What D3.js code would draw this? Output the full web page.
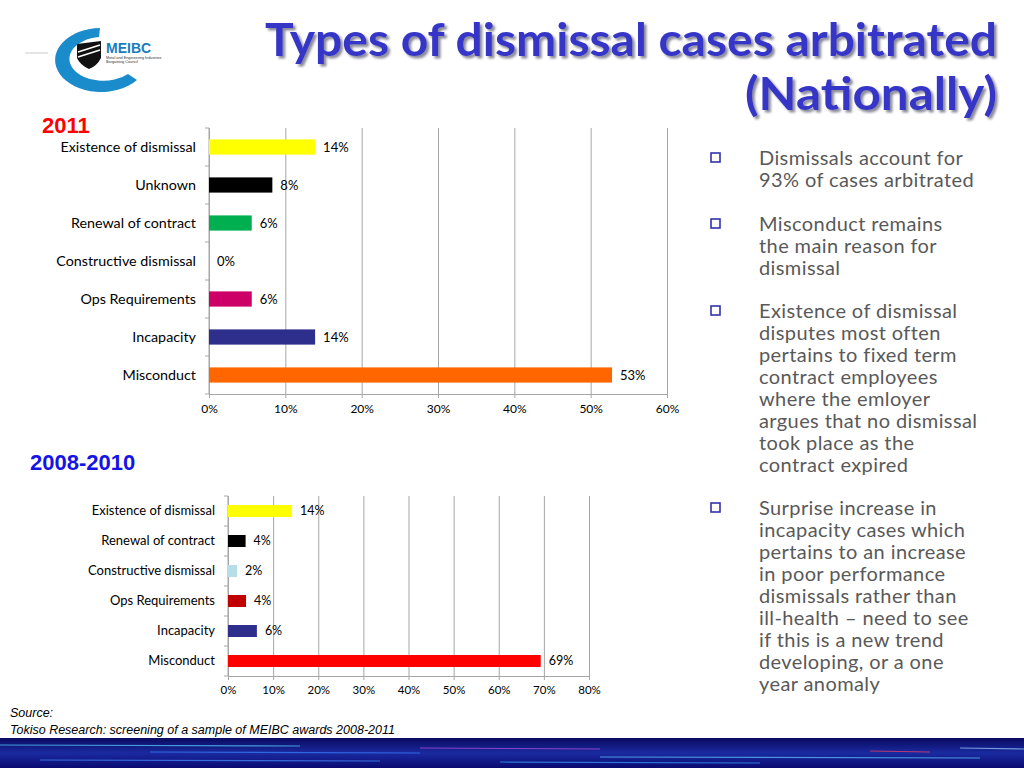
<!DOCTYPE html>
<meta charset="utf-8">
<style>
body { margin: 0; background: #fff; }
svg { display: block; }
.cat text, .vlabel, .tick text { font-family: 'Lato', 'DejaVu Sans', sans-serif; fill: #000; }
.bullet { font-family: 'Lato', sans-serif; fill: #595959; font-size: 20px; letter-spacing: 0.4px; }
</style>
<body>
<svg width="1024" height="768"></svg>
<script src="https://cdnjs.cloudflare.com/ajax/libs/d3/7.8.5/d3.min.js"></script>
<script>
// 2011 chart data (share of cases)
var cats2011 = ["Existence of dismissal", "Unknown", "Renewal of contract", "Constructive dismissal",
                "Ops Requirements", "Incapacity", "Misconduct"];
var vals2011 = [0.139, 0.083, 0.056, 0, 0.056, 0.139, 0.528];
var cols2011 = ["#ffff00", "#000000", "#00b050", "#ffffff", "#cc0066", "#2e2e8c", "#ff6600"];
var ticks2011 = [0, 0.1, 0.2, 0.3, 0.4, 0.5, 0.6];

// 2008-2010 chart data
var cats0810 = ["Existence of dismissal", "Renewal of contract", "Constructive dismissal",
                "Ops Requirements", "Incapacity", "Misconduct"];
var vals0810 = [0.142, 0.039, 0.02, 0.040, 0.064, 0.693];
var cols0810 = ["#ffff00", "#000000", "#b7dee8", "#c00000", "#2e2e8c", "#ff0000"];
var ticks0810 = [0, 0.1, 0.2, 0.3, 0.4, 0.5, 0.6, 0.7, 0.8];

var bullets = [
  ["Dismissals account for", "93% of cases arbitrated"],
  ["Misconduct remains", "the main reason for", "dismissal"],
  ["Existence of dismissal", "disputes most often", "pertains to fixed term", "contract employees",
   "where the emloyer", "argues that no dismissal", "took place as the", "contract expired"],
  ["Surprise increase in", "incapacity cases which", "pertains to an increase", "in poor performance",
   "dismissals rather than", "ill-health \u2013 need to see", "if this is a new trend",
   "developing, or a one", "year anomaly"]
];
var bulletTop = [158, 224, 311, 508];

var svg = d3.select("svg");
var defs = svg.append("defs");
var pct = d3.format(".0%");

var shadow = defs.append("filter").attr("id", "shadow").attr("x", "-5%").attr("y", "-20%")
  .attr("width", "110%").attr("height", "140%");
shadow.append("feDropShadow").attr("dx", 2.5).attr("dy", 2.5).attr("stdDeviation", 0.8)
  .attr("flood-color", "#8a8a9a");

function barChart(cfg) {
  var g = svg.append("g");
  var x = d3.scaleLinear().domain([0, cfg.ticks[cfg.ticks.length - 1]]).range([cfg.left, cfg.right]);
  var y = d3.scaleBand().domain(cfg.cats).range([cfg.top, cfg.bottom])
      .paddingInner(0.6).paddingOuter(0.3);

  // gridlines + bottom tick labels
  var xa = g.append("g").attr("transform", "translate(0," + cfg.bottom + ")")
      .call(d3.axisBottom(x).tickValues(cfg.ticks).tickFormat(pct)
        .tickSize(-(cfg.bottom - cfg.top)).tickSizeOuter(0).tickPadding(10));
  xa.select(".domain").attr("stroke", "#a6a6a6");
  xa.selectAll(".tick line").attr("stroke", "#a6a6a6").attr("y2", -(cfg.bottom - cfg.top)).attr("y1", 4);
  xa.selectAll(".tick text").attr("font-size", cfg.fs - 1).attr("font-family", "Lato, sans-serif");

  // left axis with ticks at band boundaries
  g.append("line").attr("x1", cfg.left).attr("x2", cfg.left)
    .attr("y1", cfg.top).attr("y2", cfg.bottom).attr("stroke", "#a6a6a6");
  g.selectAll(".btick").data(d3.range(cfg.cats.length + 1)).enter().append("line")
    .attr("x1", cfg.left - 4).attr("x2", cfg.left)
    .attr("y1", function(i) { return cfg.top + i * y.step(); })
    .attr("y2", function(i) { return cfg.top + i * y.step(); })
    .attr("stroke", "#a6a6a6");

  var ya = g.append("g").attr("class", "cat").attr("transform", "translate(" + cfg.left + ",0)")
      .call(d3.axisLeft(y).tickSize(0).tickPadding(13));
  ya.select(".domain").remove();
  ya.selectAll("text").attr("font-size", cfg.catFs).attr("font-family", "Lato, sans-serif");

  g.selectAll(".bar").data(cfg.vals).enter().append("rect")
    .attr("x", x(0))
    .attr("y", function(d, i) { return y(cfg.cats[i]); })
    .attr("width", function(d) { return x(d) - x(0); })
    .attr("height", y.bandwidth())
    .attr("fill", function(d, i) { return cfg.cols[i]; });

  g.selectAll(".vlabel").data(cfg.vals).enter().append("text")
    .attr("class", "vlabel")
    .attr("x", function(d) { return x(d) + 8; })
    .attr("y", function(d, i) { return y(cfg.cats[i]) + y.bandwidth() / 2; })
    .attr("dy", "0.35em")
    .attr("font-size", cfg.fs)
    .text(function(d) { return pct(d); });
}

barChart({cats: cats2011, vals: vals2011, cols: cols2011, ticks: ticks2011,
          left: 209, right: 667, top: 128, bottom: 394, fs: 13, catFs: 14.3});
barChart({cats: cats0810, vals: vals0810, cols: cols0810, ticks: ticks0810,
          left: 228, right: 589, top: 496, bottom: 676, fs: 12.5, catFs: 13});

// section headings
svg.append("text").attr("x", 42).attr("y", 133).text("2011")
  .attr("font-family", "Liberation Sans, Arial, sans-serif").attr("font-weight", "bold")
  .attr("font-size", 22).attr("fill", "#ff0000");
svg.append("text").attr("x", 30).attr("y", 470).text("2008-2010")
  .attr("font-family", "Liberation Sans, Arial, sans-serif").attr("font-weight", "bold")
  .attr("font-size", 22).attr("fill", "#1414e6");

// title with shadow
var titleLines = [["Types of dismissal cases arbitrated", 56, 732], ["(Nationally)", 110, 252]];
titleLines.forEach(function(t) {
  svg.append("text").attr("x", 997).attr("y", t[1])
    .attr("text-anchor", "end")
    .attr("font-family", "Lato, sans-serif").attr("font-weight", "bold")
    .attr("font-size", 46).attr("fill", "#3535c8")
    .attr("filter", "url(#shadow)")
    .attr("textLength", t[2]).attr("lengthAdjust", "spacingAndGlyphs")
    .text(t[0]);
});

// bullets
bullets.forEach(function(lines, b) {
  svg.append("rect").attr("x", 711).attr("y", bulletTop[b] - 5).attr("width", 9).attr("height", 9)
    .attr("fill", "#fff").attr("stroke", "#3333aa").attr("stroke-width", 1.6);
  svg.append("text").attr("class", "bullet")
    .selectAll("tspan").data(lines).enter().append("tspan")
    .attr("x", 759).attr("y", function(d, i) { return bulletTop[b] + i * 22; })
    .attr("dy", "0.35em")
    .text(function(d) { return d; });
});

// source
svg.append("text").attr("x", 10).attr("y", 717).text("Source:")
  .attr("font-family", "Liberation Sans, Arial, sans-serif").attr("font-style", "italic")
  .attr("font-size", 12.5).attr("fill", "#000");
svg.append("text").attr("x", 10).attr("y", 734).text("Tokiso Research: screening of a sample of MEIBC awards 2008-2011")
  .attr("font-family", "Liberation Sans, Arial, sans-serif").attr("font-style", "italic")
  .attr("font-size", 12.5).attr("fill", "#000");

// logo
var logo = svg.append("g");
logo.append("line").attr("x1", 25).attr("x2", 48).attr("y1", 53).attr("y2", 53).attr("stroke", "#ccc");
logo.append("path").attr("fill", "#1a8ccc").attr("fill-rule", "evenodd")
  .attr("d", "M137,80 A46,32 0 1 1 100,28 L99,37 A34,22 0 1 0 128,74 Z");
var sh = logo.append("g");
sh.append("path").attr("fill", "#111").attr("d", "M77,44 L101,41 L101,58 Q97,66 89,69 Q80,65 77,58 Z");
sh.append("line").attr("x1", 78).attr("y1", 52).attr("x2", 100).attr("y2", 45).attr("stroke", "#fff").attr("stroke-width", 1.5);
sh.append("line").attr("x1", 78).attr("y1", 57).attr("x2", 100).attr("y2", 50).attr("stroke", "#fff").attr("stroke-width", 1.5);
logo.append("text").attr("x", 106).attr("y", 53).text("MEIBC")
  .attr("font-family", "Liberation Sans, sans-serif").attr("font-weight", "bold")
  .attr("font-size", 14).attr("fill", "#1a7cc0");
logo.append("text").attr("x", 106).attr("y", 59).text("Metal and Engineering Industries")
  .attr("font-family", "Liberation Sans, sans-serif").attr("font-size", 3.8).attr("fill", "#333");
logo.append("text").attr("x", 106).attr("y", 63).text("Bargaining Council")
  .attr("font-family", "Liberation Sans, sans-serif").attr("font-size", 3.8).attr("fill", "#333");

// bottom band
var gr = defs.append("linearGradient").attr("id", "band").attr("x1", 0).attr("x2", 0).attr("y1", 0).attr("y2", 1);
gr.append("stop").attr("offset", "0").attr("stop-color", "#0a0a60");
gr.append("stop").attr("offset", "0.5").attr("stop-color", "#1a2aa0");
gr.append("stop").attr("offset", "1").attr("stop-color", "#0a0a70");
svg.append("rect").attr("x", 0).attr("y", 738).attr("width", 1024).attr("height", 30).attr("fill", "url(#band)");
var streaks = [[0, 745, 300, "#5ad0ff"], [150, 752, 420, "#3a80ff"], [420, 748, 600, "#c050e0"],
               [600, 757, 980, "#60c8ff"], [960, 748, 1024, "#9ad0ff"], [870, 751, 930, "#ff4060"],
               [40, 760, 380, "#4a90ff"], [500, 762, 760, "#3aa0ff"]];
streaks.forEach(function(s) {
  svg.append("line").attr("x1", s[0]).attr("x2", s[2]).attr("y1", s[1]).attr("y2", s[1] + 1)
    .attr("stroke", s[3]).attr("stroke-width", 1.2).attr("opacity", 0.7);
});
</script>
</body>
